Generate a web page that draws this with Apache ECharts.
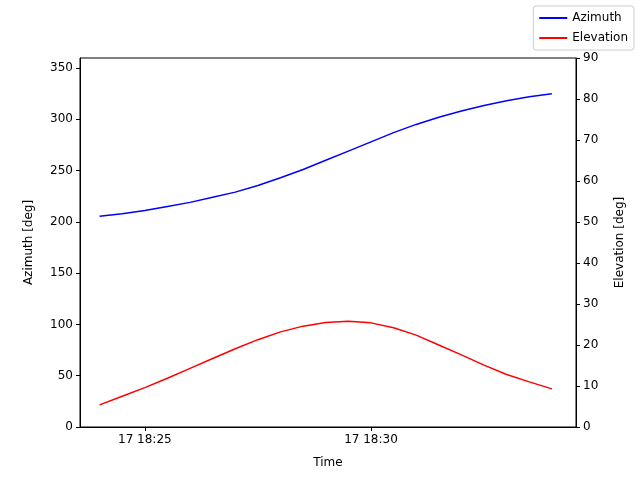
<!DOCTYPE html>
<html><head><meta charset="utf-8">
<script src="https://cdn.jsdelivr.net/npm/echarts@6/dist/echarts.min.js"></script>
<style>html,body{margin:0;padding:0;background:#fff}#c{width:640px;height:480px}</style>
</head><body><div id="c"></div>
<script>
// time in seconds after 18:00 on day 17
const times = [1440,1470,1500,1530,1560,1590,1620,1650,1680,1710,1740,1770,1800,1830,1860,1890,1920,1950,1980,2010,2040];
const azimuth = [205.5,208,211,215,219,224,229,235.5,243,251,260,269,278,287,295,302,308,313.5,318,322,325];
const elevation = [5.4,7.5,9.6,11.9,14.3,16.7,19.1,21.3,23.2,24.6,25.5,25.8,25.4,24.2,22.4,20.0,17.6,15.1,12.8,11.0,9.3];
const xTicks = [1500,1800];
const leftTicks = [0,50,100,150,200,250,300,350];
const rightTicks = [0,10,20,30,40,50,60,70,80,90];

const font = 'DejaVu Sans';
const fmt = v => { const m = Math.floor(v/60), s = Math.round(v%60); return '17 18:' + String(m%60).padStart(2,'0') + (s ? ':' + String(s).padStart(2,'0') : ''); };
const chart = echarts.init(document.getElementById('c'), null, {renderer:'canvas'});
chart.setOption({
  animation:false,
  textStyle:{fontFamily:font},
  grid:{left:80,right:64,top:58,bottom:53,show:true,borderColor:'#000',borderWidth:1},
  legend:{
    right:6, top:6, orient:'vertical', itemWidth:28, itemHeight:2, itemGap:8,
    borderColor:'#ccc', borderWidth:1, borderRadius:3, padding:[6,6,6,6],
    icon:'rect', textStyle:{fontSize:12, color:'#000', fontFamily:font},
    data:['Azimuth','Elevation']
  },
  xAxis:{
    type:'value', min:1414, max:2072, name:'Time', nameLocation:'middle', nameGap:30,
    nameTextStyle:{fontSize:12,color:'#000'},
    axisLine:{lineStyle:{color:'#000'}}, splitLine:{show:false},
    axisTick:{customValues:xTicks, length:4, lineStyle:{color:'#000'}},
    axisLabel:{customValues:xTicks, formatter:fmt, color:'#000', fontSize:12, margin:7}
  },
  yAxis:[{
    type:'value', min:0, max:359.75, name:'Azimuth [deg]', nameLocation:'middle', nameGap:45, nameRotate:90,
    nameTextStyle:{fontSize:12,color:'#000'},
    axisLine:{show:true,lineStyle:{color:'#000'}}, splitLine:{show:false},
    axisTick:{show:true,customValues:leftTicks,length:4,lineStyle:{color:'#000'}},
    axisLabel:{customValues:leftTicks,color:'#000',fontSize:12,margin:7}
  },{
    type:'value', min:0, max:90, interval:10, position:'right', name:'Elevation [deg]', nameLocation:'middle', nameGap:38, nameRotate:90,
    nameTextStyle:{fontSize:12,color:'#000'},
    axisLine:{show:true,lineStyle:{color:'#000'}}, splitLine:{show:false},
    axisTick:{show:true,length:4,lineStyle:{color:'#000'}},
    axisLabel:{color:'#000',fontSize:12,margin:7}
  }],
  series:[
    {name:'Azimuth', type:'line', yAxisIndex:0, showSymbol:false, color:'#0000ff', lineStyle:{width:1.5},
     data: times.map((t,i)=>[t,azimuth[i]])},
    {name:'Elevation', type:'line', yAxisIndex:1, showSymbol:false, color:'#ff0000', lineStyle:{width:1.5},
     data: times.map((t,i)=>[t,elevation[i]])}
  ]
});
</script></body></html>
